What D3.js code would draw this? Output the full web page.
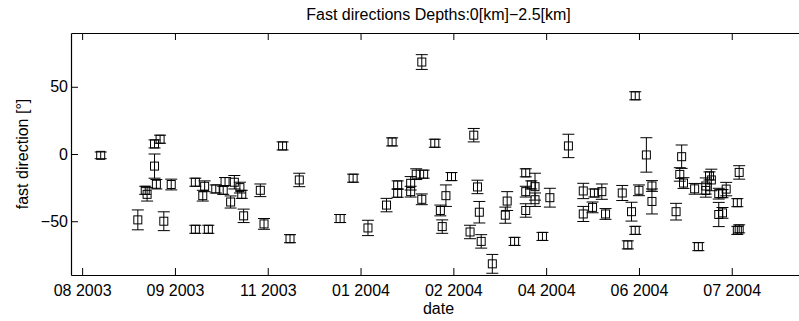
<!DOCTYPE html>
<html>
<head>
<meta charset="utf-8">
<script src="https://cdn.jsdelivr.net/npm/d3@7"></script>
<style>
  html, body { margin: 0; padding: 0; background: #fff; }
  svg { display: block; }
  text { font-family: "Liberation Sans", Arial, Helvetica, sans-serif; fill: #000; }
</style>
</head>
<body>
<script>
// ---- data ----
const dates = [
  "2003-08-17","2003-09-06","2003-09-10","2003-09-11","2003-09-15","2003-09-15","2003-09-16","2003-09-18",
  "2003-09-20","2003-09-24","2003-10-07","2003-10-07","2003-10-11","2003-10-12","2003-10-14","2003-10-18",
  "2003-10-22","2003-10-23","2003-10-26","2003-10-28","2003-10-31","2003-11-01","2003-11-02","2003-11-11",
  "2003-11-13","2003-11-23","2003-11-27","2003-12-02","2003-12-24","2003-12-31","2004-01-08","2004-01-18",
  "2004-01-21","2004-01-24","2004-01-24","2004-01-31","2004-01-31","2004-02-03","2004-02-06","2004-02-06",
  "2004-02-07","2004-02-13","2004-02-16","2004-02-17","2004-02-19","2004-02-22","2004-03-03","2004-03-05",
  "2004-03-07","2004-03-08","2004-03-09","2004-03-15","2004-03-22","2004-03-23","2004-03-27","2004-04-02",
  "2004-04-02","2004-04-02","2004-04-05","2004-04-07","2004-04-07","2004-04-11","2004-04-15","2004-04-25",
  "2004-05-03","2004-05-03","2004-05-08","2004-05-09","2004-05-13","2004-05-15","2004-05-24","2004-05-27",
  "2004-05-29","2004-05-31","2004-05-31","2004-06-02","2004-06-06","2004-06-09","2004-06-09","2004-06-22",
  "2004-06-24","2004-06-25","2004-06-26","2004-07-02","2004-07-04","2004-07-08","2004-07-08","2004-07-10",
  "2004-07-11","2004-07-15","2004-07-15","2004-07-17","2004-07-17","2004-07-19","2004-07-25","2004-07-25",
  "2004-07-26","2004-07-26"
];
const directions = [
  -1, -49, -27, -30, 7.5, -9, -22.5, 11,
  -50, -22.7, -21, -56, -31, -24, -56, -26,
  -27, -20.5, -35.7, -21, -25, -30, -46, -27,
  -52, 6, -63, -19.3, -48, -18, -55, -38,
  9, -23, -29.2, -21.8, -28, -15, 68.4, -33.7,
  -15, 8, -42, -54, -31, -16.8, -58, 14,
  -24.5, -43.3, -65, -81.7, -45.5, -35, -65, -14,
  -28, -42, -23, -24.3, -34, -61.3, -32.5, 6,
  -27.5, -44.6, -39.7, -29, -28, -44.6, -29, -67.6,
  -42.9, -56.8, 43.3, -27, -0.7, -23.8, -35.3, -42.9,
  -15.2, -2, -21.6, -25.9, -68.9, -23.8, -27.1, -16.3,
  -19.3, -29.5, -45, -29.5, -43.8, -26.1, -36.2, -56.8,
  -13.7, -55.7
];
const errors = [
  2.5, 7.4, 3, 5, 3, 9, 3.5, 3,
  7, 4, 3, 3, 4, 4, 3, 3,
  3, 3, 4.5, 5, 4, 3, 5, 4.7,
  4, 3, 3, 5, 3, 3, 5.7, 5,
  3, 3, 3, 5, 4, 4, 5.5, 4,
  3, 3, 4, 5, 8, 3, 5, 5,
  5, 8, 5, 7, 6, 7, 3, 3,
  4, 5, 3, 10, 5, 3, 7, 8.7,
  5.7, 5.6, 4, 3, 5.7, 4, 5.6, 3,
  7, 3, 3, 4, 12.8, 4, 9.3, 6.2,
  5, 8.7, 4, 4, 3, 6, 5, 3,
  8, 4, 9, 3, 4, 5, 3, 3,
  5, 3
];
const xDomain = ["2003-08-01", "2004-08-31"];
const yDomain = [-90, 90];
const xTicks = ["2003-08-07","2003-09-26","2003-11-15","2004-01-04","2004-02-23","2004-04-13","2004-06-02","2004-07-22"];
const yTicks = [-50, 0, 50];
const titleText = "Fast directions Depths:0[km]\u22122.5[km]";
const xLabel = "date";
const yLabel = "fast direction [\u00b0]";

// ---- drawing ----
(function () {
const W = 799, H = 321;
const mLeft = 71, mRight = 806, mTop = 33, mBottom = 275;
const parse = d3.utcParse("%Y-%m-%d");
const points = dates.map((d, i) => ({ t: parse(d), v: directions[i], e: errors[i] }));

const x = d3.scaleUtc().domain(xDomain.map(parse)).range([mLeft, mRight]);
const y = d3.scaleLinear().domain(yDomain).range([mBottom, mTop]);

const svg = d3.select("body").append("svg").attr("width", W).attr("height", H);

const fmtX = d3.utcFormat("%m %Y");
const fmtY = v => (v < 0 ? "\u2212" + Math.abs(v) : String(v));

const gB = svg.append("g").attr("transform", `translate(0,${mBottom})`)
  .call(d3.axisBottom(x).tickValues(xTicks.map(parse)).tickFormat(fmtX).tickSizeInner(-7).tickSizeOuter(0).tickPadding(10));
const gT = svg.append("g").attr("transform", `translate(0,${mTop})`)
  .call(d3.axisTop(x).tickValues(xTicks.map(parse)).tickFormat("").tickSizeInner(-7).tickSizeOuter(0));
const gL = svg.append("g").attr("transform", `translate(${mLeft},0)`)
  .call(d3.axisLeft(y).tickValues(yTicks).tickFormat(fmtY).tickSizeInner(-7).tickSizeOuter(0).tickPadding(3));
const gR = svg.append("g").attr("transform", `translate(${mRight},0)`)
  .call(d3.axisRight(y).tickValues(yTicks).tickFormat("").tickSizeInner(-7).tickSizeOuter(0));

[gB, gT, gL, gR].forEach(g => {
  g.selectAll(".domain").attr("stroke", "#000").attr("stroke-width", 1.2);
  g.selectAll(".tick line").attr("stroke", "#000").attr("stroke-width", 1);
  g.selectAll("text").attr("font-size", 16).attr("font-family", "'Liberation Sans', Arial, sans-serif").attr("fill", "#000");
});

const cap = 6, half = 4;
const gp = svg.append("g").attr("fill", "none").attr("stroke", "#000").attr("stroke-width", 1);
const pg = gp.selectAll("g.pt").data(points).join("g").attr("class", "pt");
pg.append("line")
  .attr("x1", d => x(d.t)).attr("x2", d => x(d.t))
  .attr("y1", d => y(d.v + d.e)).attr("y2", d => y(d.v - d.e));
pg.append("line")
  .attr("x1", d => x(d.t) - cap).attr("x2", d => x(d.t) + cap)
  .attr("y1", d => y(d.v + d.e)).attr("y2", d => y(d.v + d.e));
pg.append("line")
  .attr("x1", d => x(d.t) - cap).attr("x2", d => x(d.t) + cap)
  .attr("y1", d => y(d.v - d.e)).attr("y2", d => y(d.v - d.e));
pg.append("rect")
  .attr("x", d => x(d.t) - half).attr("y", d => y(d.v) - half)
  .attr("width", 2 * half).attr("height", 2 * half);

svg.append("text").attr("x", (mLeft + mRight) / 2).attr("y", 20)
  .attr("text-anchor", "middle").attr("font-size", 16).text(titleText);
svg.append("text").attr("x", (mLeft + mRight) / 2).attr("y", 314)
  .attr("text-anchor", "middle").attr("font-size", 16).text(xLabel);
svg.append("text").attr("transform", `translate(28,${(mTop + mBottom) / 2}) rotate(-90)`)
  .attr("text-anchor", "middle").attr("font-size", 16).text(yLabel);
})();
</script>
</body>
</html>
